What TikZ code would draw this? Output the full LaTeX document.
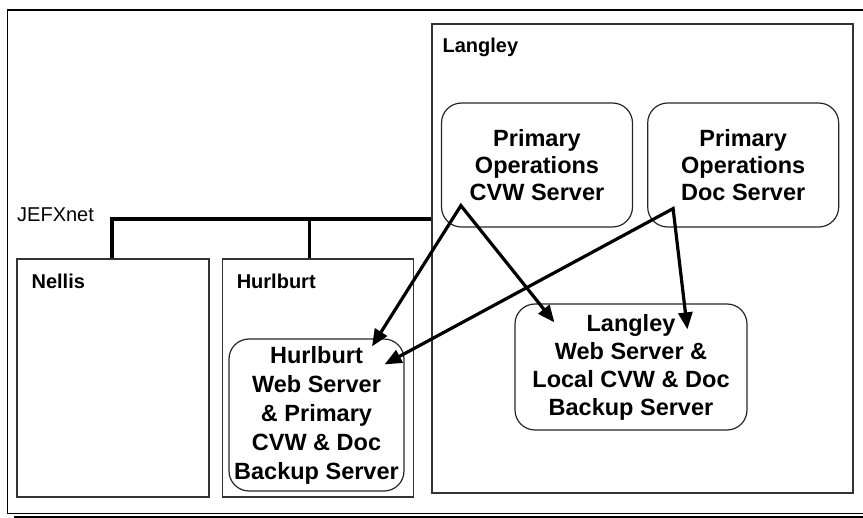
\documentclass[tikz,border=0pt]{standalone}
\usepackage{fontspec}
\setmainfont{Liberation Sans}
\usetikzlibrary{calc,positioning,arrows.meta}

\begin{document}
\begin{tikzpicture}[x=1pt,y=-1pt,
		site/.style={draw=black!80,line width=1.2pt,minimum width=191pt,minimum height=238pt,inner sep=0pt},
		sitename/.style={anchor=base west,inner sep=0pt,font=\bfseries\fontsize{20}{24}\selectfont},
		srv/.style={draw=black!85,line width=1.2pt,rounded corners=20pt,align=center,inner sep=0pt,font=\bfseries\fontsize{23.5}{28}\selectfont},
		bus/.style={line width=3.2pt},
		feed/.style={line width=3.2pt,{Triangle[length=17pt,width=14pt]}-{Triangle[length=17pt,width=14pt]}}]
	\useasboundingbox (0,0) rectangle (863,518);
	% page frame
	\draw[line width=1.2pt] (863,10) -- (7.5,10) -- (7.5,513.5) -- (863,513.5);
	\draw[line width=2.2pt] (14,517) -- (863,517);

	% sites
	\node(langley)  [site,minimum width=421pt,minimum height=469pt] at (642.5,258.5) {};
	\node(nellis)   [site,minimum width=192pt] at (113,378) {};
	\node(hurlburt) [site,right=12pt of nellis] {};
	\node(langleylbl)  [sitename] at ($(langley.north west)+(11,29)$) {Langley};
	\node(nellislbl)   [sitename] at ($(nellis.north west)+(15,30)$) {Nellis};
	\node(hurlburtlbl) [sitename] at ($(hurlburt.north west)+(15,30)$) {Hurlburt};

	% servers
	\node(pcvw) [srv,minimum width=191pt,minimum height=124pt,font=\bfseries\fontsize{23.5}{27}\selectfont] at (537,165) {Primary\\Operations\\CVW Server};
	\node(pdoc) [srv,minimum width=191pt,minimum height=124pt,font=\bfseries\fontsize{23.5}{27}\selectfont,right=14pt of pcvw] {Primary\\Operations\\Doc Server};
	\node(hsrv) [srv,minimum width=175pt,minimum height=152pt,font=\bfseries\fontsize{23.5}{29}\selectfont] at (316.5,415) {Hurlburt\\Web Server\\\& Primary\\CVW \& Doc\\Backup Server};
	\node(lsrv) [srv,minimum width=232pt,minimum height=126pt] at (631,367) {Langley\\Web Server \&\\Local CVW \& Doc\\Backup Server};

	% JEFXnet
	\node(jefx) [anchor=base west,inner sep=0pt,font=\fontsize{20}{24}\selectfont] at (17,222) {JEFXnet};
	\coordinate (tap) at (112,219);
	\draw[bus] (nellis.north -| tap) -- (tap) -- (tap -| langley.west);
	\draw[bus] ($(hurlburt.north)+(-8.5,0)$) -- ($(hurlburt.north)+(-8.5,-40)$);

	% replication
	\coordinate (cvwout) at ($(pcvw.south west)+(20,-22)$);
	\coordinate (docout) at ($(pdoc.south west)+(26,-19)$);
	\coordinate (hcvwin) at ($(hsrv.north)+(55.5,8)$);
	\coordinate (hdocin) at ($(hsrv.north east)+(-20,26)$);
	\coordinate (lcvwin) at ($(lsrv.north west)+(40,19)$);
	\coordinate (ldocin) at ($(lsrv.north west)+(173,26)$);
	\draw[feed] (hcvwin) -- (cvwout) -- (lcvwin);
	\draw[feed] (hdocin) -- (docout) -- (ldocin);
\end{tikzpicture}
\end{document}
